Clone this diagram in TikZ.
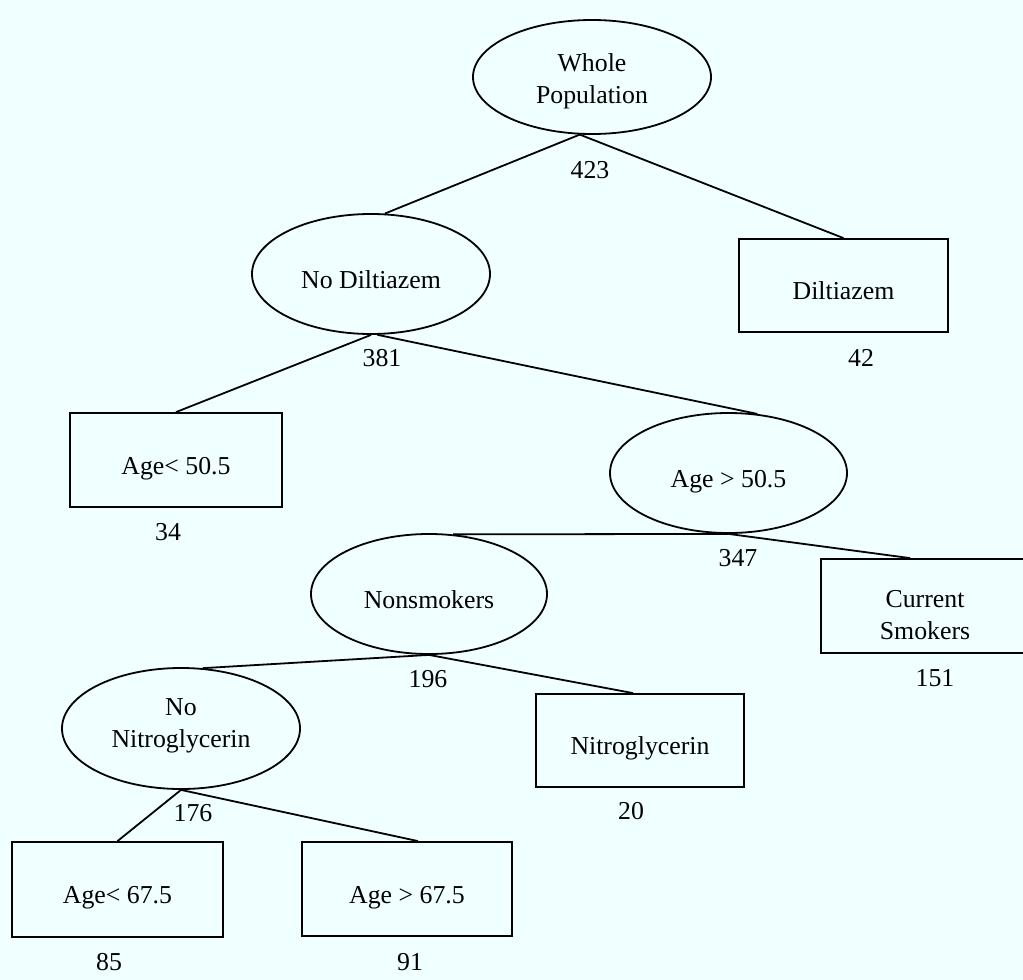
\documentclass[tikz,border=0pt]{standalone}
\usepackage{fontspec}
\setmainfont{Liberation Serif}
\usetikzlibrary{shapes.geometric}
\definecolor{bgc}{RGB}{240,255,255}
\begin{document}
\begin{tikzpicture}[x=1pt,y=-1pt,
  every node/.style={font=\fontsize{25.8}{32}\selectfont, inner sep=0pt},
  oval/.style={ellipse, draw, line width=1.8pt, minimum width=238pt, minimum height=120pt},
  box/.style={rectangle, draw, line width=1.8pt, minimum width=210pt, minimum height=94pt},
  one/.style={text height=28pt, text depth=0pt},
  link/.style={line width=1.8pt}]
\useasboundingbox (0,0) rectangle (1023,980);
\clip (0,0) rectangle (1023,980);
\fill[bgc] (0,0) rectangle (1023,980);

% nodes
\node[oval, minimum height=114pt, text height=52pt, text depth=0pt] (wp) at (592,77)
  {\begin{tabular}[b]{@{}c@{}}Whole\\Population\end{tabular}};
\node[oval, one] (nd) at (371,274) {No Diltiazem};
\node[box, one, minimum width=209pt, minimum height=93pt] (dz) at (843.5,285.5) {Diltiazem};
\node[box, one, minimum width=212pt] (a1) at (176,460) {Age< 50.5};
\node[oval, one, minimum width=237pt] (a2) at (728.5,473) {Age > 50.5};
\node[oval, one, minimum width=236pt] (ns) at (429,594) {Nonsmokers};
\node[box, minimum width=208pt, text height=66pt, text depth=0pt] (cs) at (925,606)
  {\begin{tabular}[b]{@{}c@{}}Current\\Smokers\end{tabular}};
\node[oval, minimum height=121pt, text height=37pt, text depth=0pt] (ng) at (181,728.5)
  {\begin{tabular}[b]{@{}c@{}}No\\Nitroglycerin\end{tabular}};
\node[box, one, minimum width=208pt, minimum height=93pt] (nt) at (640,740.5) {Nitroglycerin};
\node[box, one, minimum width=211pt, minimum height=95pt] (b1) at (117.5,889.5) {Age< 67.5};
\node[box, one] (b2) at (407,889) {Age > 67.5};

% counts
\node (c423) at (590,170) {423};
\node (c381) at (382,358) {381};
\node (c42) at (861,358) {42};
\node (c34) at (168,532) {34};
\node (c347) at (738,558) {347};
\node (c151) at (935,678) {151};
\node (c196) at (428,679) {196};
\node (c20) at (631,811) {20};
\node (c176) at (193,813) {176};
\node (c85) at (109,962) {85};
\node (c91) at (410,962) {91};

% connectors
\draw[link] (wp.258) -- (nd.77);
\draw[link] (wp.258) -- (dz.north);
\draw[link] (nd.south) -- (a1.north);
\draw[link] (nd.276) -- (a2.64);
\draw[link] (a2.south) -- (ns.68);
\draw[link] (a2.south) -- ([xshift=-15pt]cs.north);
\draw[link] (ns.south) -- (ng.70);
\draw[link] (ns.south) -- ([xshift=-7pt]nt.north);
\draw[link] (ng.south) -- (b1.north);
\draw[link] (ng.south) -- ([xshift=11pt]b2.north);
\end{tikzpicture}
\end{document}
